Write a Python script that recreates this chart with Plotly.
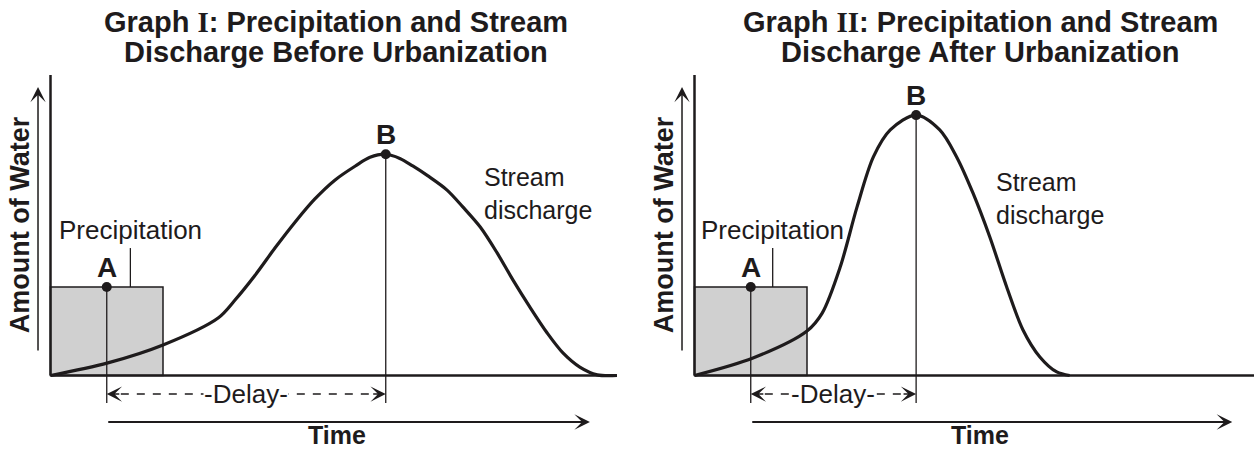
import plotly.graph_objects as go

# ---------------- data ----------------
# Time in hours, amount of water in arbitrary units
precip_start = 0.0
precip_end = 2.0
precip_amount = 4.0

# Stream discharge hydrograph before urbanization
before_time = [0.0, 1.02, 2.0, 2.98, 3.28, 3.64, 3.99, 4.35, 4.70, 5.06,
               5.42, 5.68, 5.96, 6.21, 6.44, 6.71, 7.05, 7.33, 7.64,
               7.94, 8.22, 8.52, 8.83, 9.11, 9.41, 9.72, 10.07]
before_flow = [0.0, 0.57, 1.38, 2.60, 3.41, 4.54, 5.76, 6.94, 7.98, 8.84,
               9.47, 9.86, 10.0, 9.81, 9.47, 9.02, 8.38, 7.62, 6.71,
               5.54, 4.32, 3.10, 1.92, 1.02, 0.38, 0.03, 0.0]

# Stream discharge hydrograph after urbanization
after_time = [0.0, 1.04, 2.0, 2.27, 2.59, 2.89, 3.18, 3.48, 3.94,
              4.36, 4.66, 4.95, 5.25, 5.55, 5.84, 6.14, 6.44, 6.67]
after_flow = [0.0, 0.79, 2.01, 2.82, 4.90, 7.62, 9.88, 11.1, 11.77,
              11.1, 9.88, 8.25, 6.26, 4.0, 2.06, 0.84, 0.16, 0.0]

SERIF_I = '<span style="font-family:Liberation Serif, Times New Roman, serif">{}</span>'
title_lines = [
    ("Graph " + SERIF_I.format("I") + ": Precipitation and Stream",
     "Discharge Before Urbanization"),
    ("Graph " + SERIF_I.format("II") + ": Precipitation and Stream",
     "Discharge After Urbanization"),
]
y_label = "Amount of Water"
x_label = "Time"
precip_label = "Precipitation"
stream_label = "Stream<br>discharge"
delay_label = "-Delay-"

# ---------------- layout geometry ----------------
W, H = 1254, 451
SPLIT = 640                 # pixel column between the two graphs
PX_PER_HOUR = 56.25
PX_PER_UNIT = 22.125
BASE_PX = 375.5             # baseline row
ORIGIN_PX = [50.5, 694.5]   # time-zero column of each graph
INK = "#1e1b1c"
FILL = "#d0d0d0"
FONT = "Liberation Sans, Arial, Helvetica, sans-serif"

y_range = [(BASE_PX - H) / PX_PER_UNIT, BASE_PX / PX_PER_UNIT]
x_ranges = [
    [(0 - ORIGIN_PX[0]) / PX_PER_HOUR, (SPLIT - ORIGIN_PX[0]) / PX_PER_HOUR],
    [(SPLIT - ORIGIN_PX[1]) / PX_PER_HOUR, (W - ORIGIN_PX[1]) / PX_PER_HOUR],
]

axis_top = 13.58
arrow_col = -0.222
arrow_bottom, arrow_tip = 1.06, 13.04
delay_row = -0.84
drop_bottom = -1.24
time_row = -2.10
time_tip = [9.59, 9.56]
time_label_x = [5.09, 5.08]
baseline_end = [10.07, 10.2]
leader_t = [1.42, 1.39]
leader_top = 5.76
precip_label_y = 6.58
stream_pos = [(7.67, 8.23), (5.32, 8.0)]
title_cx = [336, 980]
title_rows = [22, 52]

fig = go.Figure()
annotations = []
shapes = []

panels = [(before_time, before_flow), (after_time, after_flow)]

for i, (t_vals, q_vals) in enumerate(panels):
    xr = "x" if i == 0 else "x2"
    yr = "y" if i == 0 else "y2"

    # precipitation block
    fig.add_trace(go.Bar(
        x=[(precip_start + precip_end) / 2], y=[precip_amount],
        width=[precip_end - precip_start],
        marker=dict(color=FILL, line=dict(color=INK, width=1.5)),
        xaxis=xr, yaxis=yr, showlegend=False, hoverinfo="skip"))

    # discharge curve
    fig.add_trace(go.Scatter(
        x=t_vals, y=q_vals, mode="lines",
        line=dict(color=INK, width=3.2, shape="spline", smoothing=0.9),
        xaxis=xr, yaxis=yr, showlegend=False, hoverinfo="skip"))

    a_t = (precip_start + precip_end) / 2
    a_q = precip_amount
    peak = max(range(len(q_vals)), key=lambda k: q_vals[k])
    b_t, b_q = t_vals[peak], q_vals[peak]

    # drop lines from A and B
    for (pt, pq) in [(a_t, a_q), (b_t, b_q)]:
        shapes.append(dict(type="line", xref=xr, yref=yr, x0=pt, x1=pt,
                           y0=pq, y1=drop_bottom,
                           line=dict(color=INK, width=1.3)))

    # points A and B
    fig.add_trace(go.Scatter(
        x=[a_t, b_t], y=[a_q, b_q], mode="markers",
        marker=dict(color=INK, size=10),
        xaxis=xr, yaxis=yr, showlegend=False, hoverinfo="skip"))
    for (pt, pq, lab) in [(a_t, a_q, "A"), (b_t, b_q, "B")]:
        annotations.append(dict(x=pt, y=pq, xref=xr, yref=yr, text=lab,
                                showarrow=False, yanchor="middle", yshift=20,
                                font=dict(family=FONT, size=28, color=INK,
                                          weight="bold")))

    # vertical axis and baseline
    shapes.append(dict(type="line", xref=xr, yref=yr, x0=0, x1=0,
                       y0=0, y1=axis_top, line=dict(color=INK, width=2.5)))
    shapes.append(dict(type="line", xref=xr, yref=yr, x0=0,
                       x1=baseline_end[i], y0=0, y1=0,
                       line=dict(color=INK, width=2.5)))

    # amount-of-water arrow
    annotations.append(dict(x=arrow_col, y=arrow_tip, ax=arrow_col,
                            ay=arrow_bottom, xref=xr, yref=yr, axref=xr,
                            ayref=yr, text="", showarrow=True, arrowhead=3,
                            arrowwidth=1.5, arrowsize=1.7, arrowcolor=INK,
                            standoff=0))
    annotations.append(dict(x=-0.54, y=6.8, xref=xr, yref=yr, text=y_label,
                            textangle=-90, showarrow=False,
                            font=dict(family=FONT, size=27, color=INK,
                                      weight="bold")))

    # precipitation label and leader
    shapes.append(dict(type="line", xref=xr, yref=yr, x0=leader_t[i],
                       x1=leader_t[i], y0=precip_amount, y1=leader_top,
                       line=dict(color=INK, width=1.3)))
    annotations.append(dict(x=leader_t[i], y=precip_label_y, xref=xr,
                            yref=yr, text=precip_label, showarrow=False,
                            font=dict(family=FONT, size=26, color=INK)))

    # stream discharge label
    sx, sy = stream_pos[i]
    annotations.append(dict(x=sx, y=sy, xref=xr, yref=yr, text=stream_label,
                            xanchor="left", align="left", showarrow=False,
                            font=dict(family=FONT, size=25, color=INK)))

    # delay: dashed span between A and B with arrowheads
    head = 0.25
    shapes.append(dict(type="line", xref=xr, yref=yr, x0=a_t + head,
                       x1=b_t - head, y0=delay_row, y1=delay_row,
                       line=dict(color=INK, width=1.5, dash="8px,8px")))
    for tip, tail in [(a_t, a_t + head), (b_t, b_t - head)]:
        annotations.append(dict(x=tip, y=delay_row, ax=tail, ay=delay_row,
                                xref=xr, yref=yr, axref=xr, ayref=yr,
                                text="", showarrow=True, arrowhead=3,
                                arrowwidth=1.5, arrowsize=1.7,
                                arrowcolor=INK, standoff=0))
    annotations.append(dict(x=(a_t + b_t) / 2, y=delay_row, xref=xr,
                            yref=yr, text=delay_label, showarrow=False,
                            bgcolor="white", borderpad=0,
                            font=dict(family=FONT, size=26, color=INK)))

    # time arrow
    annotations.append(dict(x=time_tip[i], y=time_row, ax=a_t, ay=time_row,
                            xref=xr, yref=yr, axref=xr, ayref=yr, text="",
                            showarrow=True, arrowhead=3, arrowwidth=2,
                            arrowsize=1.3, arrowcolor=INK, standoff=0))
    annotations.append(dict(x=time_label_x[i], y=0, xref=xr, yref="paper",
                            text=x_label, showarrow=False, yanchor="bottom",
                            font=dict(family=FONT, size=25, color=INK,
                                      weight="bold")))

    # two-line title
    for txt, row in zip(title_lines[i], title_rows):
        annotations.append(dict(x=title_cx[i] / W, y=1 - row / H,
                                xref="paper", yref="paper", text=txt,
                                showarrow=False, xanchor="center",
                                yanchor="middle",
                                font=dict(family=FONT, size=29, color=INK,
                                          weight="bold")))

fig.update_layout(
    width=W, height=H,
    margin=dict(l=0, r=0, t=0, b=0),
    paper_bgcolor="white", plot_bgcolor="white",
    showlegend=False, barmode="overlay",
    xaxis=dict(domain=[0, SPLIT / W], range=x_ranges[0], visible=False,
               fixedrange=True),
    xaxis2=dict(domain=[SPLIT / W, 1], range=x_ranges[1], visible=False,
                fixedrange=True),
    yaxis=dict(domain=[0, 1], range=y_range, visible=False, fixedrange=True),
    yaxis2=dict(domain=[0, 1], range=y_range, visible=False, anchor="x2",
                fixedrange=True),
    annotations=annotations,
    shapes=shapes,
)

fig.write_html("out.html", config={"displayModeBar": False})
